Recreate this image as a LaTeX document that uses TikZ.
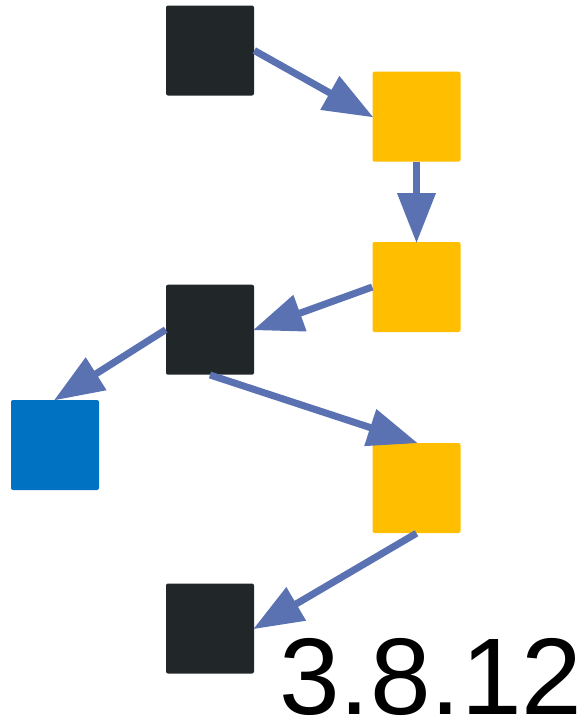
\documentclass[tikz,border=0pt]{standalone}
\usepackage{fontspec}
\setmainfont{Liberation Sans}
\usetikzlibrary{arrows.meta}
\definecolor{nblack}{HTML}{212729}
\definecolor{nyellow}{HTML}{FFBF00}
\definecolor{nblue}{HTML}{0072C2}
\definecolor{arr}{HTML}{5A71B2}
\begin{document}
\begin{tikzpicture}[x=0.75pt,y=-0.75pt,
  box/.style={rectangle,rounded corners=1.5pt,inner sep=0pt,minimum width=66pt,minimum height=67.5pt},
  bk/.style={box,fill=nblack},
  yl/.style={box,fill=nyellow},
  bl/.style={box,fill=nblue},
  link/.style={draw=arr,line width=5.25pt,-{Triangle[length=37.5pt,width=27.75pt]},shorten >=-1pt}]
\useasboundingbox (0,0) rectangle (584,719);
\node[bk] (A) at (210,50.5) {};
\node[yl] (B) at (416.5,116.7) {};
\node[yl] (C) at (416.5,287) {};
\node[bk] (D) at (210,329.7) {};
\node[bl] (E) at (55,445) {};
\node[yl] (F) at (416.5,488) {};
\node[bk] (G) at (210,628.5) {};
\draw[link] (A.east) -- (B.west);
\draw[link] (B.south) -- (C.north);
\draw[link] (C.west) -- (D.east);
\draw[link] (D.west) -- (E.north);
\draw[link] (D.south) -- (F.north);
\draw[link] (F.south) -- (G.east);
\node[anchor=base west,inner sep=0pt,font=\fontsize{81.75}{90}\selectfont] (T) at (279,714) {3.8.12};
\end{tikzpicture}
\end{document}
